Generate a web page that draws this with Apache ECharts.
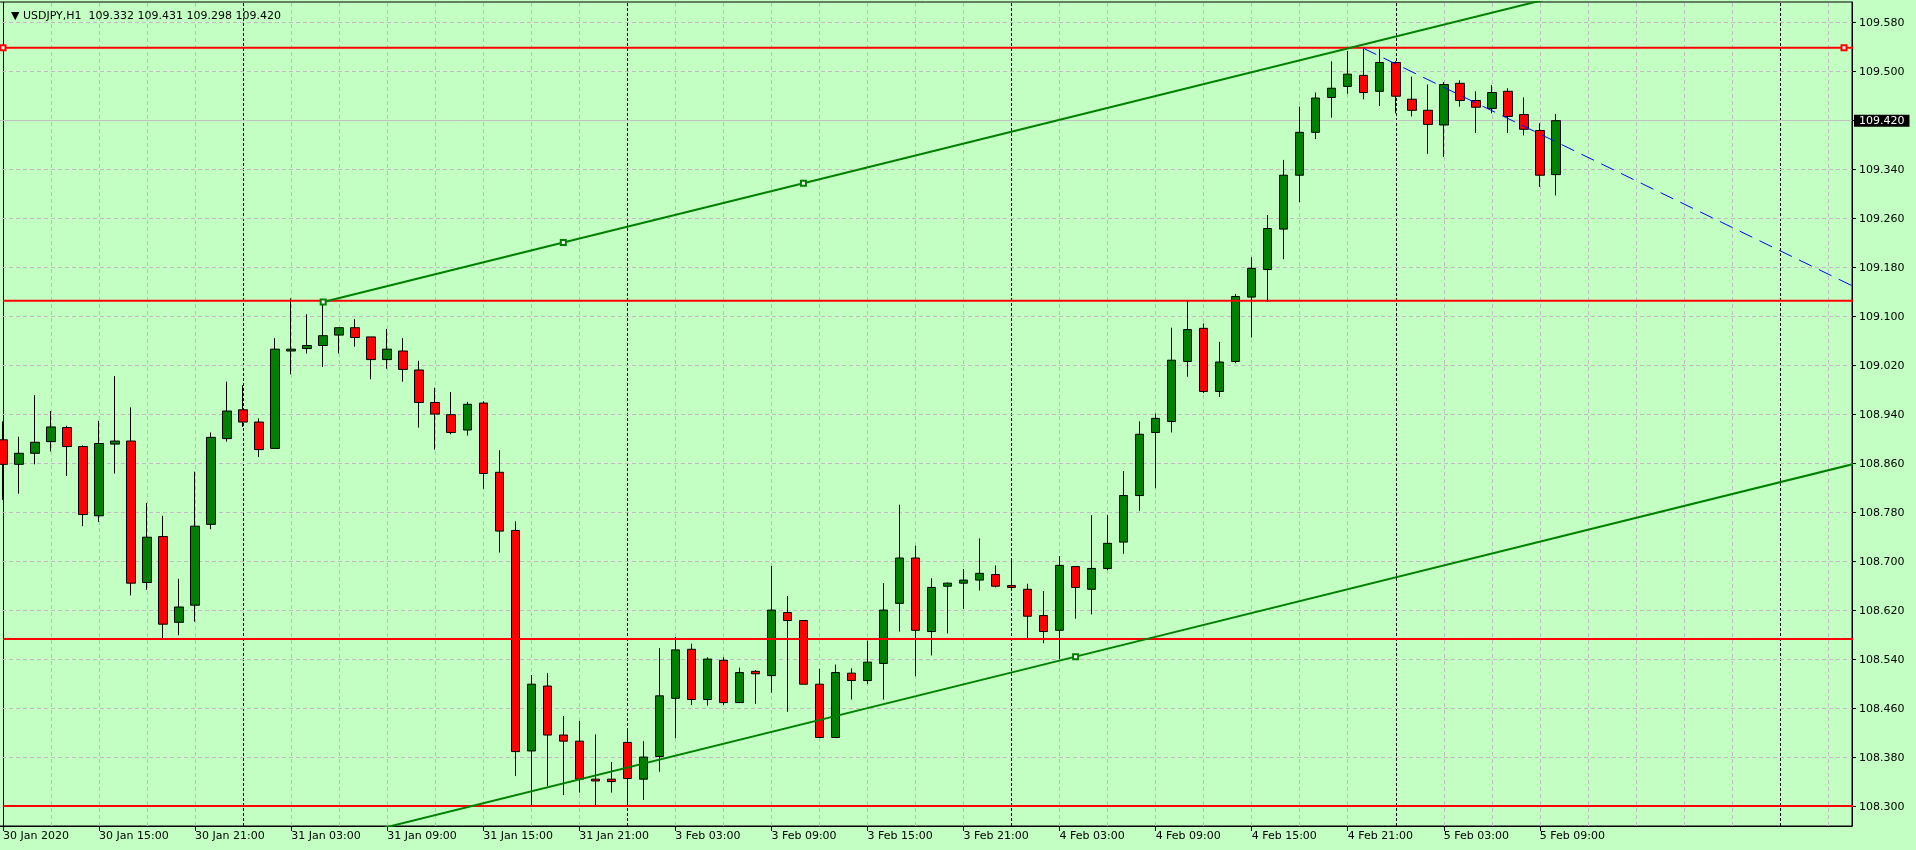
<!DOCTYPE html>
<html>
<head>
<meta charset="utf-8">
<title>USDJPY,H1</title>
<script src="https://cdn.jsdelivr.net/npm/echarts@6/dist/echarts.min.js"></script>
<style>
  html, body { margin: 0; padding: 0; background: #c3ffc3; }
  #chart { width: 1916px; height: 850px; }
</style>
</head>
<body>
<div id="chart"></div>
<script>
// hourly bars from 30 Jan 09:00 to 5 Feb 10:00 (weekend is skipped)
const open = [
  108.899, 108.859, 108.877, 108.896, 108.919, 108.888, 108.775, 108.892, 108.897, 108.666,
  108.741, 108.601, 108.629, 108.761, 108.901, 108.948, 108.928, 108.885, 109.044, 109.048,
  109.053, 109.070, 109.082, 109.067, 109.030, 109.044, 109.013, 108.960, 108.940, 108.915,
  108.959, 108.846, 108.751, 108.391, 108.497, 108.417, 108.407, 108.345, 108.345, 108.405,
  108.345, 108.382, 108.477, 108.557, 108.475, 108.539, 108.470, 108.521, 108.514, 108.617,
  108.604, 108.500, 108.413, 108.518, 108.506, 108.534, 108.632, 108.706, 108.586, 108.660,
  108.665, 108.670, 108.679, 108.661, 108.655, 108.612, 108.588, 108.692, 108.655, 108.689,
  108.732, 108.808, 108.911, 108.929, 109.027, 109.081, 108.978, 109.027, 109.132, 109.177,
  109.243, 109.331, 109.401, 109.458, 109.476, 109.494, 109.468, 109.515, 109.455, 109.437,
  109.413, 109.481, 109.453, 109.440, 109.468, 109.430, 109.404, 109.332
];
const high = [
  108.929, 108.904, 108.972, 108.946, 108.922, 108.890, 108.930, 109.003, 108.952, 108.796,
  108.775, 108.672, 108.847, 108.911, 108.994, 108.988, 108.934, 109.065, 109.130, 109.104,
  109.124, 109.082, 109.096, 109.067, 109.080, 109.065, 109.028, 108.984, 108.977, 108.961,
  108.962, 108.882, 108.766, 108.515, 108.518, 108.448, 108.440, 108.418, 108.373, 108.428,
  108.407, 108.559, 108.577, 108.566, 108.544, 108.544, 108.527, 108.523, 108.693, 108.644,
  108.604, 108.525, 108.532, 108.526, 108.571, 108.665, 108.793, 108.726, 108.673, 108.666,
  108.688, 108.738, 108.694, 108.702, 108.664, 108.652, 108.709, 108.692, 108.776, 108.776,
  108.848, 108.929, 108.942, 109.082, 109.126, 109.089, 109.059, 109.137, 109.197, 109.266,
  109.356, 109.443, 109.466, 109.517, 109.534, 109.538, 109.537, 109.517, 109.492, 109.479,
  109.483, 109.486, 109.468, 109.478, 109.473, 109.458, 109.416, 109.431
];
const low = [
  108.801, 108.811, 108.859, 108.880, 108.840, 108.758, 108.765, 108.844, 108.645, 108.654,
  108.573, 108.580, 108.602, 108.753, 108.896, 108.920, 108.871, 108.885, 109.006, 109.040,
  109.018, 109.040, 109.051, 108.998, 109.015, 108.994, 108.919, 108.883, 108.908, 108.906,
  108.819, 108.715, 108.350, 108.301, 108.334, 108.319, 108.323, 108.300, 108.323, 108.306,
  108.311, 108.357, 108.412, 108.466, 108.465, 108.466, 108.470, 108.468, 108.486, 108.455,
  108.500, 108.412, 108.412, 108.475, 108.500, 108.475, 108.586, 108.513, 108.547, 108.583,
  108.623, 108.653, 108.658, 108.657, 108.574, 108.567, 108.541, 108.607, 108.614, 108.686,
  108.713, 108.783, 108.820, 108.911, 109.002, 108.975, 108.969, 109.024, 109.066, 109.124,
  109.194, 109.287, 109.390, 109.425, 109.464, 109.455, 109.444, 109.432, 109.427, 109.366,
  109.361, 109.443, 109.400, 109.432, 109.400, 109.396, 109.312, 109.298
];
const close = [
  108.859, 108.877, 108.895, 108.920, 108.888, 108.777, 108.893, 108.897, 108.665, 108.740,
  108.598, 108.626, 108.758, 108.903, 108.946, 108.928, 108.883, 109.047, 109.047, 109.053,
  109.069, 109.082, 109.066, 109.030, 109.047, 109.014, 108.960, 108.941, 108.911, 108.957,
  108.844, 108.750, 108.390, 108.500, 108.417, 108.407, 108.345, 108.342, 108.341, 108.346,
  108.381, 108.481, 108.556, 108.475, 108.541, 108.470, 108.519, 108.517, 108.621, 108.604,
  108.500, 108.413, 108.519, 108.506, 108.536, 108.621, 108.706, 108.588, 108.658, 108.665,
  108.670, 108.681, 108.660, 108.658, 108.611, 108.586, 108.694, 108.658, 108.689, 108.730,
  108.808, 108.908, 108.934, 109.029, 109.079, 108.978, 109.026, 109.133, 109.179, 109.244,
  109.331, 109.401, 109.457, 109.473, 109.496, 109.466, 109.515, 109.460, 109.437, 109.414,
  109.479, 109.453, 109.442, 109.466, 109.427, 109.406, 109.331, 109.420
];

// days on the time axis: [day, first hour, last hour]
const days = [['30 Jan', 9, 23], ['31 Jan', 0, 23], ['3 Feb', 0, 23], ['4 Feb', 0, 23], ['5 Feb', 0, 23], ['6 Feb', 0, 4]];
const xTickLabels = [
  '30 Jan 2020', '30 Jan 15:00', '30 Jan 21:00', '31 Jan 03:00', '31 Jan 09:00', '31 Jan 15:00',
  '31 Jan 21:00', '3 Feb 03:00', '3 Feb 09:00', '3 Feb 15:00', '3 Feb 21:00', '4 Feb 03:00',
  '4 Feb 09:00', '4 Feb 15:00', '4 Feb 21:00', '5 Feb 03:00', '5 Feb 09:00'
];
const yTicks = [
  108.300, 108.380, 108.460, 108.540, 108.620, 108.700, 108.780, 108.860, 108.940,
  109.020, 109.100, 109.180, 109.260, 109.340, 109.420, 109.500, 109.580
];

// drawn objects
const levels = [109.539, 109.126, 108.574, 108.301];
const upperChannel = [[20, 109.124], [35, 109.221], [50, 109.318], [120, 109.771]];
const lowerChannel = [[20, 108.241], [67, 108.545], [120, 108.888]];
const ray = [[85, 109.538], [125, 109.030]];
const lastPrice = 109.420;

const FONT = 'DejaVu Sans';

const categories = [];
days.forEach(([d, h0, h1]) => {
  for (let h = h0; h <= h1; h++) categories.push(d + ' ' + String(h).padStart(2, '0') + ':00');
});
const daySeparators = categories.map((c, i) => (i > 0 && c.endsWith(' 00:00') ? i : -1)).filter(i => i >= 0);

const candles = open.map((o, i) => [o, close[i], low[i], high[i]]);

const showLabel = i => i % 6 === 0 && i / 6 < xTickLabels.length;

// grid lines (drawn under the candles)
const gridLines = [];
for (let i = 0; i < categories.length; i += 3) {
  if (i === 0) {
    gridLines.push({ xAxis: i, lineStyle: { color: '#000', type: 'solid', width: 1 } });
  } else if (daySeparators.includes(i)) {
    gridLines.push({ xAxis: i, lineStyle: { color: '#000', type: [3, 2], width: 1 } });
  } else {
    gridLines.push({ xAxis: i, lineStyle: { color: '#c4b8c4', type: [4, 3], width: 1 } });
  }
}
yTicks.forEach(v => {
  gridLines.push({ yAxis: v, lineStyle: { color: '#c4b8c4', type: [4, 3], width: 1 } });
});
gridLines.push({
  yAxis: lastPrice,
  lineStyle: { color: '#c0c0c0', type: 'solid', width: 1 },
  label: {
    show: true, position: 'end', distance: 2, formatter: lastPrice.toFixed(3),
    backgroundColor: '#000', color: '#fff', padding: [1, 5, 0, 5],
    fontSize: 11, fontFamily: FONT
  }
});

const levelSeries = levels.map((v, k) => ({
  type: 'line',
  z: 3,
  data: k === 0
    ? [{ value: [0, v], symbol: 'emptyRect' }, { value: [115, v], symbol: 'emptyRect' }, { value: [116, v], symbol: 'none' }]
    : [[0, v], [116, v]],
  symbol: 'none',
  symbolSize: 5,
  showSymbol: true,
  lineStyle: { color: '#ff0000', width: 2 },
  itemStyle: { color: '#ff0000', borderWidth: 1 },
  silent: true
}));

const chart = echarts.init(document.getElementById('chart'));

chart.setOption({
  animation: false,
  backgroundColor: '#c3ffc3',
  title: {
    text: '{t|▼} USDJPY,H1  ' + [open[97], high[97], low[97], close[97]].map(v => v.toFixed(3)).join(' '),
    left: 6,
    top: 6,
    textStyle: {
      fontSize: 11, fontWeight: 'normal', color: '#000', fontFamily: FONT,
      rich: { t: { fontSize: 11, fontFamily: FONT, color: '#000' } }
    }
  },
  grid: {
    left: -5, right: 64, top: 2, bottom: 24,
    outerBoundsMode: 'none',
    containLabel: false,
    show: true, borderColor: '#000', borderWidth: 1, backgroundColor: 'transparent'
  },
  xAxis: {
    type: 'category',
    data: categories,
    boundaryGap: true,
    axisLine: { show: true, lineStyle: { color: '#000' } },
    axisTick: { show: true, alignWithLabel: true, interval: showLabel, length: 5, lineStyle: { color: '#000' } },
    axisLabel: {
      interval: showLabel,
      formatter: (v, i) => xTickLabels[i / 6],
      align: 'left',
      margin: 5,
      color: '#000',
      fontSize: 11,
      fontFamily: FONT
    },
    splitLine: { show: false }
  },
  yAxis: {
    type: 'value',
    position: 'right',
    min: 108.2685,
    max: 109.6138,
    axisLine: { show: true, lineStyle: { color: '#000' } },
    axisTick: { show: true, length: 4, customValues: yTicks, lineStyle: { color: '#000' } },
    axisLabel: {
      customValues: yTicks,
      formatter: v => v.toFixed(3),
      margin: 7,
      color: '#000',
      fontSize: 11,
      fontFamily: FONT
    },
    splitLine: { show: false }
  },
  series: [
    {
      type: 'line',
      data: [],
      z: 1,
      silent: true,
      markLine: {
        z: 1,
        silent: true,
        symbol: 'none',
        animation: false,
        label: { show: false },
        emphasis: { disabled: true },
        data: gridLines
      }
    },
    {
      type: 'candlestick',
      z: 2,
      data: candles,
      barWidth: 9,
      itemStyle: {
        color: '#008000',
        color0: '#ff0000',
        borderColor: '#000',
        borderColor0: '#000',
        borderColorDoji: '#000',
        borderWidth: 1
      }
    },
    ...levelSeries,
    {
      type: 'line',
      z: 4,
      data: upperChannel.map((p, k) => ({ value: p, symbol: k < upperChannel.length - 1 ? 'emptyRect' : 'none' })),
      symbolSize: 5,
      showSymbol: true,
      lineStyle: { color: '#008000', width: 2 },
      itemStyle: { color: '#008000', borderWidth: 1 },
      silent: true
    },
    {
      type: 'line',
      z: 4,
      data: lowerChannel.map((p, k) => ({ value: p, symbol: k === 1 ? 'emptyRect' : 'none' })),
      symbolSize: 5,
      showSymbol: true,
      lineStyle: { color: '#008000', width: 2 },
      itemStyle: { color: '#008000', borderWidth: 1 },
      silent: true
    },
    {
      type: 'line',
      z: 4,
      data: ray,
      symbol: 'none',
      lineStyle: { color: '#0000ff', width: 1, type: [14, 8] },
      silent: true
    }
  ]
});
</script>
</body>
</html>
